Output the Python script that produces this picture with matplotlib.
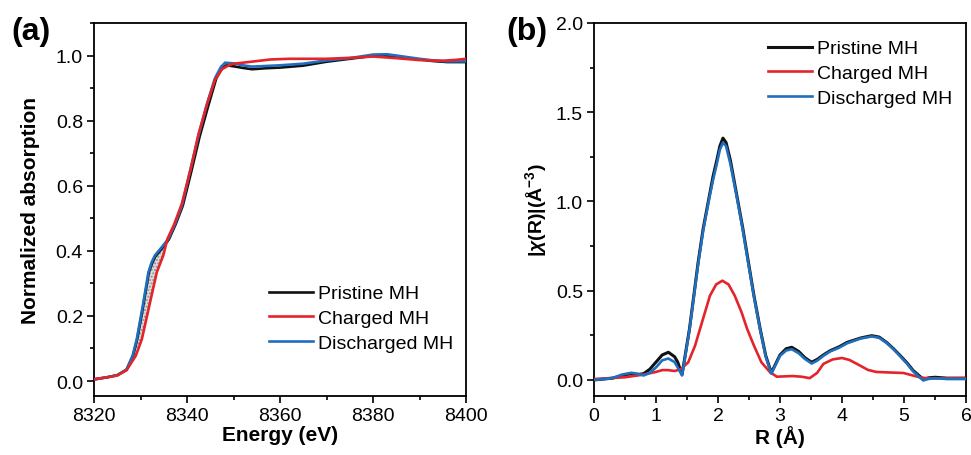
import matplotlib
matplotlib.use("Agg")
import matplotlib.pyplot as plt
from matplotlib.ticker import MultipleLocator

plt.rcParams['font.family'] = ['Liberation Sans', 'DejaVu Sans']
plt.rcParams['mathtext.fontset'] = 'custom'
plt.rcParams['mathtext.rm'] = 'Liberation Sans:bold'
plt.rcParams['mathtext.it'] = 'Liberation Sans:italic:bold'
plt.rcParams['mathtext.bf'] = 'Liberation Sans:bold'

# ---- XANES (panel a) ----
energy_d = [8320, 8323, 8325, 8327, 8328.3, 8329.2, 8330.5, 8331.7, 8332.4,
            8333.1, 8334.5, 8336.0, 8337.5, 8338.9, 8340.6, 8342.4, 8344.2,
            8346.0, 8347.3, 8348.2, 8350, 8352, 8354, 8357, 8360, 8365, 8370,
            8375, 8380, 8383, 8387, 8390, 8393, 8396, 8400]
discharged_mu = [0.005, 0.012, 0.018, 0.035, 0.078, 0.129, 0.232, 0.334,
                 0.365, 0.386, 0.41, 0.437, 0.485, 0.539, 0.642, 0.75, 0.847,
                 0.93, 0.965, 0.978, 0.976, 0.970, 0.966, 0.968, 0.970, 0.975,
                 0.985, 0.992, 1.003, 1.004, 0.996, 0.99, 0.985, 0.982, 0.982]
energy_p = [8320, 8323, 8325, 8327, 8328.4, 8329.3, 8330.6, 8331.8, 8332.5,
            8333.2, 8334.6, 8336.1, 8337.6, 8339.1, 8340.9, 8342.7, 8344.6,
            8346.3, 8347.6, 8348.5, 8350, 8352, 8354, 8357, 8360, 8365, 8370,
            8375, 8380, 8383, 8387, 8390, 8393, 8396, 8400]
pristine_mu = [0.005, 0.012, 0.018, 0.035, 0.078, 0.129, 0.232, 0.334,
               0.362, 0.383, 0.407, 0.435, 0.483, 0.539, 0.642, 0.75, 0.847,
               0.93, 0.962, 0.97, 0.967, 0.962, 0.958, 0.961, 0.963, 0.969,
               0.981, 0.99, 0.999, 0.999, 0.993, 0.988, 0.983, 0.980, 0.980]
energy_c = [8320, 8323, 8325, 8327, 8329.0, 8330.3, 8331.9, 8333.5, 8334.9,
            8335.8, 8337.2, 8338.9, 8340.8, 8342.5, 8344.4, 8346.0, 8347.5,
            8349, 8350, 8352, 8355, 8358, 8362, 8366, 8370, 8375, 8380, 8385,
            8390, 8395, 8398, 8400]
charged_mu = [0.005, 0.012, 0.017, 0.033, 0.078, 0.129, 0.232, 0.334, 0.386,
              0.437, 0.48, 0.545, 0.652, 0.76, 0.855, 0.925, 0.958, 0.970,
              0.975, 0.978, 0.983, 0.988, 0.99, 0.99, 0.99, 0.993, 0.997,
              0.992, 0.986, 0.984, 0.987, 0.99]

# ---- FT-EXAFS (panel b) ----
r_pd = [0.0, 0.3, 0.45, 0.6, 0.7, 0.8, 0.9, 1.0, 1.1, 1.2, 1.3, 1.35, 1.42,
        1.47, 1.54, 1.61, 1.68, 1.76, 1.86, 1.92, 1.98, 2.03, 2.08, 2.13,
        2.20, 2.30, 2.40, 2.49, 2.58, 2.68, 2.77, 2.86, 2.93, 3.0, 3.1, 3.19,
        3.3, 3.4, 3.51, 3.6, 3.7, 3.81, 3.95, 4.08, 4.3, 4.48, 4.6, 4.72, 4.83,
        4.94, 5.05, 5.15, 5.31, 5.4, 5.5, 5.7, 6.0]
pristine_chi = [0.0, 0.01, 0.025, 0.035, 0.03, 0.035, 0.06, 0.10, 0.14,
                0.155, 0.13, 0.10, 0.03, 0.136, 0.286, 0.472, 0.66, 0.846,
                1.03, 1.14, 1.23, 1.31, 1.355, 1.33, 1.23, 1.04, 0.85, 0.66,
                0.472, 0.286, 0.136, 0.04, 0.09, 0.14, 0.175, 0.183, 0.16,
                0.125, 0.099, 0.115, 0.14, 0.164, 0.185, 0.21, 0.235, 0.248,
                0.24, 0.21, 0.175, 0.136, 0.095, 0.052, 0.004, 0.012, 0.015,
                0.01, 0.01]
discharged_chi = [0.0, 0.01, 0.03, 0.04, 0.035, 0.025, 0.04, 0.07, 0.11,
                  0.12, 0.10, 0.07, 0.025, 0.13, 0.28, 0.465, 0.65, 0.835,
                  1.02, 1.12, 1.21, 1.29, 1.33, 1.31, 1.21, 1.03, 0.84, 0.65,
                  0.465, 0.28, 0.13, 0.035, 0.085, 0.135, 0.165, 0.172, 0.15,
                  0.118, 0.092, 0.108, 0.135, 0.16, 0.18, 0.205, 0.232, 0.244,
                  0.236, 0.207, 0.172, 0.132, 0.09, 0.047, -0.003, 0.006,
                  0.01, 0.005, 0.005]
r_c = [0.0, 0.5, 0.8, 1.0, 1.1, 1.2, 1.3, 1.4, 1.52, 1.63, 1.71, 1.79, 1.87,
       1.97, 2.07, 2.17, 2.27, 2.38, 2.47, 2.58, 2.70, 2.84, 2.95, 3.2, 3.35,
       3.48, 3.6, 3.70, 3.85, 4.0, 4.12, 4.24, 4.42, 4.55, 4.75, 4.99, 5.25,
       5.4, 6.0]
charged_chi = [0.005, 0.015, 0.03, 0.045, 0.055, 0.055, 0.05, 0.06, 0.099,
               0.192, 0.286, 0.379, 0.472, 0.535, 0.556, 0.535, 0.472, 0.379,
               0.286, 0.192, 0.099, 0.043, 0.018, 0.022, 0.018, 0.01, 0.04,
               0.09, 0.115, 0.123, 0.112, 0.09, 0.056, 0.045, 0.042, 0.039,
               0.015, 0.008, 0.01]

legend_labels = ['Pristine MH', 'Charged MH', 'Discharged MH']
c_black, c_red, c_blue = '#111111', '#E3242B', '#1F6FBF'

fig = plt.figure(figsize=(9.71, 4.56), dpi=100)
W, H = 971, 456
ax1 = fig.add_axes([94 / W, 1 - 397 / H, 372 / W, 373 / H])
ax2 = fig.add_axes([594 / W, 1 - 397 / H, 372 / W, 373 / H])

lw = 1.9
# panel (a): shaded gap between discharged and charged edges
i0, i1 = 4, 13
j0, j1 = 4, 11
poly_x = energy_d[i0:i1] + energy_c[j0:j1][::-1]
poly_y = discharged_mu[i0:i1] + charged_mu[j0:j1][::-1]
ax1.fill(poly_x, poly_y, facecolor='#dcdcdc', edgecolor='#8c8c8c',
         hatch='.....', linewidth=0, zorder=1)
ax1.plot(energy_p, pristine_mu, color=c_black, lw=lw, label=legend_labels[0], zorder=2)
ax1.plot(energy_c, charged_mu, color=c_red, lw=lw, label=legend_labels[1], zorder=4)
ax1.plot(energy_d, discharged_mu, color=c_blue, lw=lw, label=legend_labels[2], zorder=3)
ax1.set_xlim(8320, 8400)
ax1.set_ylim(-0.046, 1.1)
ax1.xaxis.set_major_locator(MultipleLocator(20))
ax1.xaxis.set_minor_locator(MultipleLocator(10))
ax1.yaxis.set_major_locator(MultipleLocator(0.2))
ax1.yaxis.set_minor_locator(MultipleLocator(0.1))
ax1.set_xlabel('Energy (eV)', fontsize=15, fontweight='bold', labelpad=1)
ax1.set_ylabel('Normalized absorption', fontsize=15, fontweight='bold', labelpad=11)
ax1.legend(loc='lower right', bbox_to_anchor=(1.013, 0.072), frameon=False,
           fontsize=14, handlelength=2.3, handletextpad=0.25, labelspacing=0.36)

# panel (b)
ax2.plot(r_pd, pristine_chi, color=c_black, lw=2.2, label=legend_labels[0], zorder=2)
ax2.plot(r_c, charged_chi, color=c_red, lw=lw, label=legend_labels[1], zorder=3)
ax2.plot(r_pd, discharged_chi, color=c_blue, lw=lw, label=legend_labels[2], zorder=4)
ax2.set_xlim(0, 6)
ax2.set_ylim(-0.09, 2.0)
ax2.xaxis.set_major_locator(MultipleLocator(1))
ax2.xaxis.set_minor_locator(MultipleLocator(0.5))
ax2.yaxis.set_major_locator(MultipleLocator(0.5))
ax2.yaxis.set_minor_locator(MultipleLocator(0.25))
ax2.set_xlabel('R (Å)', fontsize=15, fontweight='bold', labelpad=1)
ax2.set_ylabel(r'|$\chi$(R)|(Å$^{-3}$)', fontsize=14, fontweight='bold', labelpad=5)
ax2.legend(loc='upper right', bbox_to_anchor=(1.011, 1.002), frameon=False,
           fontsize=14, handlelength=2.3, handletextpad=0.25, labelspacing=0.36)

for ax in (ax1, ax2):
    for s in ax.spines.values():
        s.set_linewidth(1.3)
    ax.tick_params(which='both', direction='out', top=False, right=False,
                   width=1.2, labelsize=14, pad=3)
    ax.tick_params(which='major', length=5)
    ax.tick_params(which='minor', length=3)

fig.text(11 / W, 1 - 32 / H, '(a)', fontsize=23, fontweight='bold', va='center')
fig.text(506 / W, 1 - 32 / H, '(b)', fontsize=23, fontweight='bold', va='center')

fig.savefig('out.png', dpi=100)
